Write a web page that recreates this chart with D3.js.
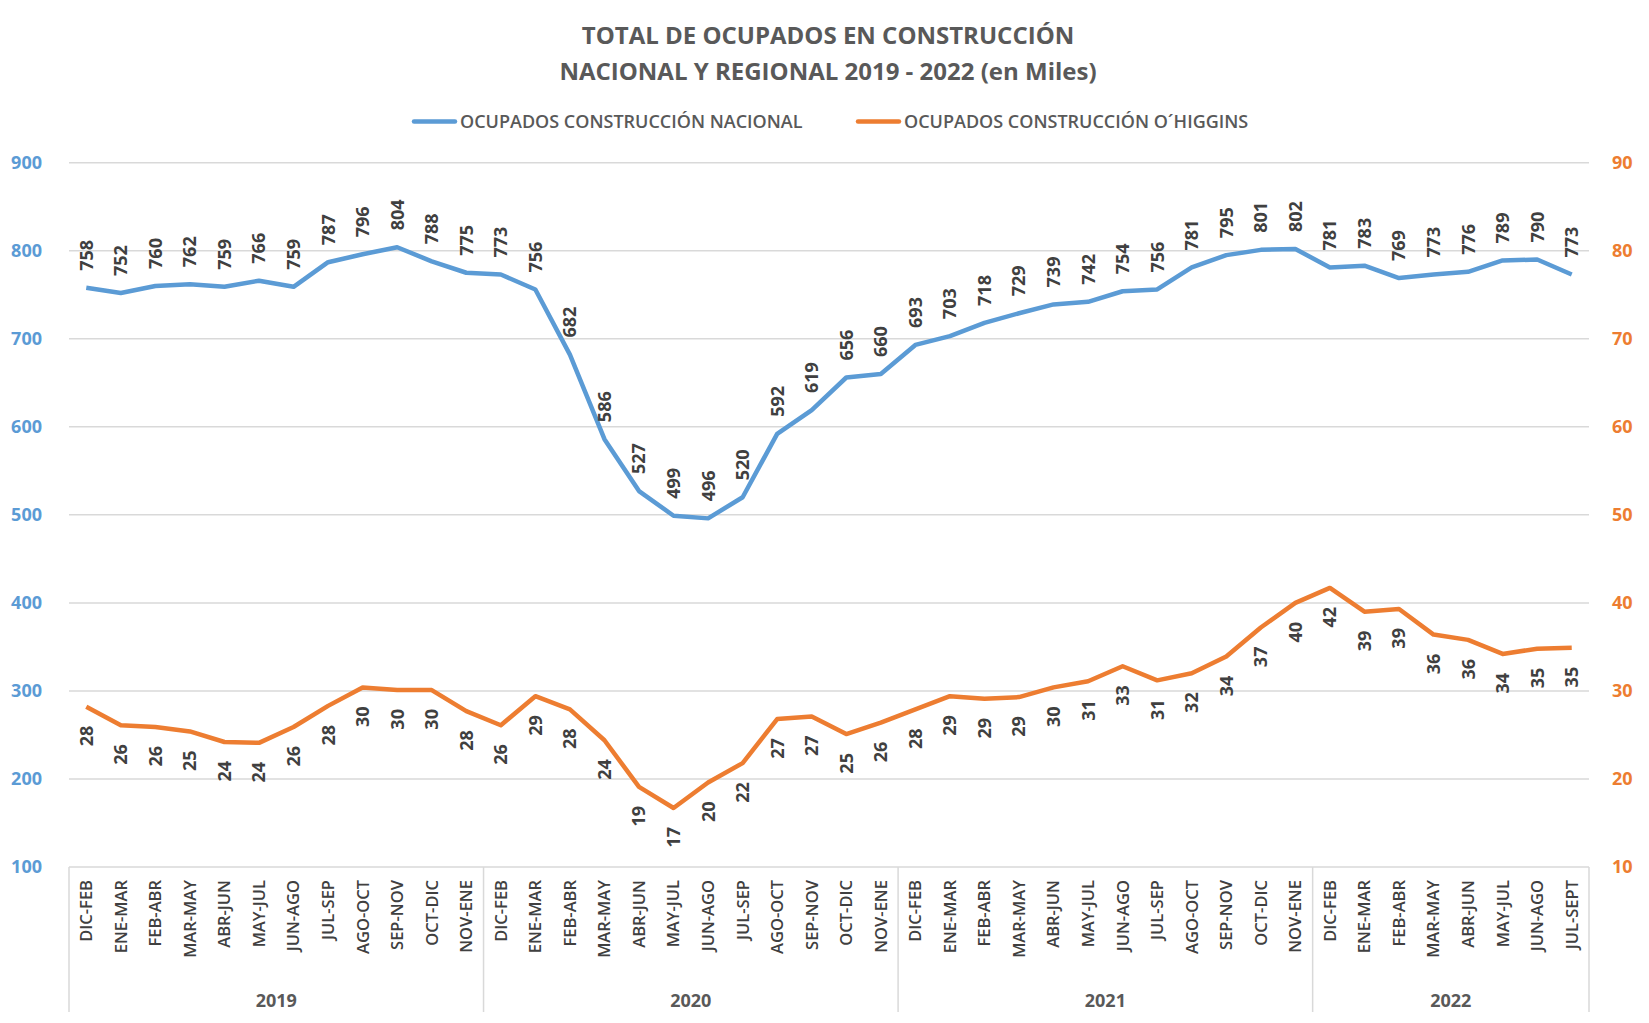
<!DOCTYPE html>
<html>
<head>
<meta charset="utf-8">
<script src="https://cdn.jsdelivr.net/npm/d3@7"></script>
<style>
  body { margin: 0; background: #fff; }
  text { font-family: "Open Sans", sans-serif; }
</style>
</head>
<body>
<div id="chart"></div>
<script>
const years = ["2019", "2020", "2021", "2022"];
const periods = [
  "DIC-FEB","ENE-MAR","FEB-ABR","MAR-MAY","ABR-JUN","MAY-JUL","JUN-AGO","JUL-SEP","AGO-OCT","SEP-NOV","OCT-DIC","NOV-ENE",
  "DIC-FEB","ENE-MAR","FEB-ABR","MAR-MAY","ABR-JUN","MAY-JUL","JUN-AGO","JUL-SEP","AGO-OCT","SEP-NOV","OCT-DIC","NOV-ENE",
  "DIC-FEB","ENE-MAR","FEB-ABR","MAR-MAY","ABR-JUN","MAY-JUL","JUN-AGO","JUL-SEP","AGO-OCT","SEP-NOV","OCT-DIC","NOV-ENE",
  "DIC-FEB","ENE-MAR","FEB-ABR","MAR-MAY","ABR-JUN","MAY-JUL","JUN-AGO","JUL-SEPT"
];
const periodYear = [
  0,0,0,0,0,0,0,0,0,0,0,0, 1,1,1,1,1,1,1,1,1,1,1,1,
  2,2,2,2,2,2,2,2,2,2,2,2, 3,3,3,3,3,3,3,3
];
const nacional = [
  758,752,760,762,759,766,759,787,796,804,788,775,
  773,756,682,586,527,499,496,520,592,619,656,660,
  693,703,718,729,739,742,754,756,781,795,801,802,
  781,783,769,773,776,789,790,773
];
const ohiggins = [
  28.2,26.1,25.9,25.4,24.2,24.1,25.9,28.3,30.4,30.1,30.1,27.7,
  26.1,29.4,27.9,24.4,19.1,16.7,19.6,21.8,26.8,27.1,25.1,26.4,
  27.9,29.4,29.1,29.3,30.4,31.1,32.8,31.2,32.0,33.9,37.2,40.0,
  41.7,39.0,39.3,36.4,35.8,34.2,34.8,34.9
];
const leftTicks = [100,200,300,400,500,600,700,800,900];
const rightTicks = [10,20,30,40,50,60,70,80,90];
const seriesNames = ["OCUPADOS CONSTRUCCIÓN NACIONAL", "OCUPADOS CONSTRUCCIÓN O´HIGGINS"];

const width = 1649, height = 1023;
const blue = "#5B9BD5", orange = "#ED7D31";
const plotLeft = 69, plotRight = 1589, plotTop = 162.7, plotBottom = 867;

const svg = d3.select("#chart").append("svg")
  .attr("width", width).attr("height", height);

const x = d3.scaleBand().domain(d3.range(periods.length)).range([plotLeft, plotRight]);
const yL = d3.scaleLinear().domain([100, 900]).range([plotBottom, plotTop]);
const yR = d3.scaleLinear().domain([10, 90]).range([plotBottom, plotTop]);
const cx = i => x(i) + x.bandwidth() / 2;

// title
svg.append("text").attr("x", 828).attr("y", 44).attr("text-anchor", "middle")
  .attr("font-size", 24).attr("font-weight", "bold").attr("fill", "#595959")
  .text("TOTAL DE OCUPADOS EN CONSTRUCCIÓN");
svg.append("text").attr("x", 828).attr("y", 80).attr("text-anchor", "middle")
  .attr("font-size", 24).attr("font-weight", "bold").attr("fill", "#595959")
  .text("NACIONAL Y REGIONAL 2019 - 2022 (en Miles)");

// legend
const legend = [{x: 414, c: blue}, {x: 858, c: orange}];
legend.forEach((l, i) => {
  svg.append("line").attr("x1", l.x).attr("x2", l.x + 41).attr("y1", 121.5).attr("y2", 121.5)
    .attr("stroke", l.c).attr("stroke-width", 4.5).attr("stroke-linecap", "round");
  svg.append("text").attr("x", l.x + 46).attr("y", 128).attr("font-size", 18)
    .attr("font-weight", 600).attr("fill", "#595959").text(seriesNames[i]);
});

// gridlines
svg.append("g").selectAll("line").data(leftTicks.slice(1)).join("line")
  .attr("x1", plotLeft).attr("x2", plotRight)
  .attr("y1", d => yL(d)).attr("y2", d => yL(d))
  .attr("stroke", "#D9D9D9").attr("stroke-width", 1.5);

// axes
const axL = svg.append("g").attr("transform", `translate(${plotLeft - 24},0)`)
  .call(d3.axisLeft(yL).tickValues(leftTicks).tickSize(0));
axL.select(".domain").remove();
axL.selectAll("text").attr("font-size", 18).attr("font-weight", "bold").attr("fill", blue)
  .attr("font-family", "Open Sans");

const axR = svg.append("g").attr("transform", `translate(${plotRight + 20},0)`)
  .call(d3.axisRight(yR).tickValues(rightTicks).tickSize(0));
axR.select(".domain").remove();
axR.selectAll("text").attr("font-size", 18).attr("font-weight", "bold").attr("fill", orange)
  .attr("font-family", "Open Sans");

// category axis
svg.append("line").attr("x1", plotLeft).attr("x2", plotRight).attr("y1", plotBottom).attr("y2", plotBottom)
  .attr("stroke", "#D9D9D9").attr("stroke-width", 1.5);

const groupBounds = [0];
years.forEach((yr, k) => groupBounds.push(periodYear.lastIndexOf(k) + 1));
svg.append("g").selectAll("line").data(groupBounds).join("line")
  .attr("x1", d => d < periods.length ? x(d) : plotRight)
  .attr("x2", d => d < periods.length ? x(d) : plotRight)
  .attr("y1", plotBottom).attr("y2", 1012)
  .attr("stroke", "#D9D9D9").attr("stroke-width", 1.5);

svg.append("g").selectAll("text").data(periods).join("text")
  .attr("transform", (d, i) => `translate(${cx(i)},880) rotate(-90)`)
  .attr("text-anchor", "end").attr("dy", "0.36em")
  .attr("font-size", 16.5).attr("font-weight", 600).attr("fill", "#404040").text(d => d);

svg.append("g").selectAll("text").data(years).join("text")
  .attr("x", (d, k) => {
    const a = groupBounds[k], b = groupBounds[k + 1];
    const xa = x(a), xb = b < periods.length ? x(b) : plotRight;
    return (xa + xb) / 2;
  })
  .attr("y", 1007).attr("text-anchor", "middle")
  .attr("font-size", 18).attr("font-weight", "bold").attr("fill", "#595959").text(d => d);

// lines
const lineL = d3.line().x((d, i) => cx(i)).y(d => yL(d));
const lineR = d3.line().x((d, i) => cx(i)).y(d => yR(d));
svg.append("path").datum(nacional).attr("d", lineL).attr("fill", "none")
  .attr("stroke", blue).attr("stroke-width", 4.5).attr("stroke-linejoin", "round");
svg.append("path").datum(ohiggins).attr("d", lineR).attr("fill", "none")
  .attr("stroke", orange).attr("stroke-width", 4.5).attr("stroke-linejoin", "round");

// data labels
svg.append("g").selectAll("text").data(nacional).join("text")
  .attr("transform", (d, i) => `translate(${cx(i)},${yL(d) - 17}) rotate(-90)`)
  .attr("text-anchor", "start").attr("dy", "0.36em")
  .attr("font-size", 18).attr("font-weight", "bold").attr("fill", "#404040")
  .text(d => d);

svg.append("g").selectAll("text").data(ohiggins).join("text")
  .attr("transform", (d, i) => `translate(${cx(i)},${yR(d) + 19}) rotate(-90)`)
  .attr("text-anchor", "end").attr("dy", "0.36em")
  .attr("font-size", 18).attr("font-weight", "bold").attr("fill", "#404040")
  .text(d => Math.round(d));
</script>
</body>
</html>
